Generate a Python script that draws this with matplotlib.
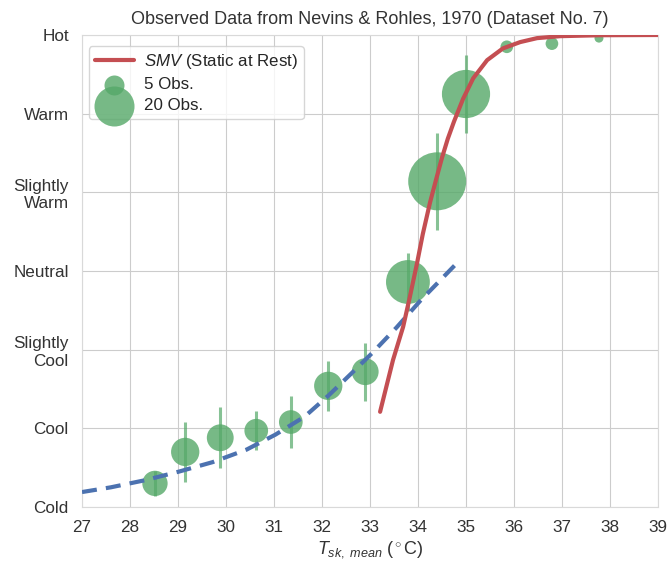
import matplotlib
matplotlib.use("Agg")
import matplotlib.pyplot as plt
import seaborn as sns
import numpy as np

# observed data (mean skin temperature, mean vote, vote std, number of obs)
t_obs = [28.52, 29.15, 29.88, 30.63, 31.35, 32.13, 32.90, 33.79, 34.40, 35.00, 35.85, 36.79, 37.77]
vote_obs = [-2.70, -2.30, -2.12, -2.03, -1.92, -1.46, -1.28, -0.14, 1.14, 2.25, 2.85, 2.89, 2.96]
vote_err = [0.16, 0.38, 0.39, 0.25, 0.33, 0.32, 0.37, 0.37, 0.62, 0.49, 0.0, 0.0, 0.0]
n_obs = [8, 10, 9, 7, 7, 10, 9, 24, 42, 29, 2, 2, 1]

# SMV curve (static at rest)
t_smv = [33.21, 33.48, 33.69, 33.83, 33.98, 34.10, 34.25, 34.38, 34.50, 34.62, 34.75, 34.94,
         35.15, 35.44, 35.77, 36.13, 36.48, 36.96, 37.79, 39.0]
v_smv = [-1.79, -1.13, -0.71, -0.33, 0.10, 0.47, 0.87, 1.17, 1.44, 1.68, 1.90, 2.19,
         2.45, 2.68, 2.83, 2.91, 2.96, 2.985, 2.997, 3.0]

# dashed fit
t_fit = [27.0, 27.6, 28.31, 29.02, 29.72, 30.43, 31.03, 31.64, 32.14, 32.65, 33.05, 33.55, 34.06, 34.46, 34.81]
v_fit = [-2.81, -2.75, -2.66, -2.55, -2.43, -2.27, -2.08, -1.85, -1.58, -1.28, -1.04, -0.72, -0.37, -0.12, 0.10]

vote_labels = ["Cold", "Cool", "Slightly\nCool", "Neutral", "Slightly\nWarm", "Warm", "Hot"]
vote_ticks = [-3, -2, -1, 0, 1, 2, 3]
x_ticks = list(range(27, 40))

sns.set_style("whitegrid")
plt.rcParams['font.family'] = ['Liberation Sans', 'DejaVu Sans']
plt.rcParams['mathtext.fontset'] = 'custom'
plt.rcParams['mathtext.it'] = 'Liberation Sans:italic'
plt.rcParams['mathtext.rm'] = 'Liberation Sans'

fig = plt.figure(figsize=(6.7, 5.68), dpi=100)
ax = fig.add_axes([0.1224, 0.1074, 0.8597, 0.831])

green = '#55a868'
size_per_obs = 41.5

ax.errorbar(t_obs, vote_obs, yerr=vote_err, fmt='none', ecolor=green,
            elinewidth=2.2, alpha=0.7, zorder=2)
ax.scatter(t_obs, vote_obs, s=np.array(n_obs) * size_per_obs, color=green,
           alpha=0.8, linewidths=0, zorder=3)
line_smv, = ax.plot(t_smv, v_smv, color='#c44e52', lw=3, zorder=5,
                    solid_capstyle='round', solid_joinstyle='round',
                    label='$SMV$ (Static at Rest)')
ax.plot(t_fit, v_fit, color='#4c72b0', lw=3, ls='--', dashes=(3.6, 2.2), zorder=4)

h5 = ax.scatter([], [], s=5 * size_per_obs, color=green, alpha=0.8, linewidths=0, label='5 Obs.')
h20 = ax.scatter([], [], s=20 * size_per_obs, color=green, alpha=0.8, linewidths=0, label='20 Obs.')

ax.legend(handles=[line_smv, h5, h20], loc='upper left', fontsize=12.2,
          labelspacing=0.35, handlelength=2.3, handletextpad=0.6,
          borderpad=0.35, borderaxespad=0.4, frameon=True,
          bbox_to_anchor=(0.0, 0.99))

ax.set_xlim(27, 39)
ax.set_ylim(-3, 3)
ax.set_xticks(x_ticks)
ax.set_yticks(vote_ticks)
ax.set_yticklabels(vote_labels, ha='right')
ax.tick_params(labelsize=12.3, pad=6, labelcolor='0.2')
ax.set_xlabel(r'$T_{sk,\ mean}$ ($^\circ$C)', fontsize=13, labelpad=3, color='0.2')
ax.set_title('Observed Data from Nevins & Rohles, 1970 (Dataset No. 7)',
             fontsize=13, pad=8, color='0.2')

for sp in ax.spines.values():
    sp.set_color('0.85')

plt.savefig('out.png', dpi=100)
